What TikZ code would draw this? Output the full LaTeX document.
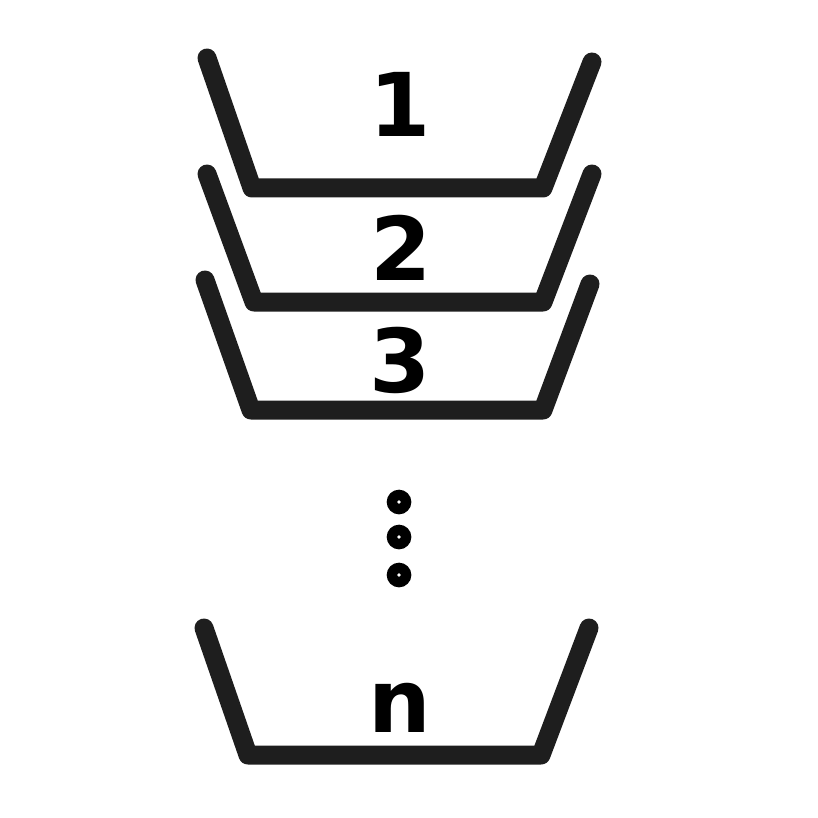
\documentclass[tikz,border=0pt]{standalone}
\usepackage{fontspec}
\setmainfont{DejaVu Sans}
\definecolor{trayc}{HTML}{1E1E1E}
\begin{document}
\begin{tikzpicture}[x=1pt,y=-1pt,
  tray/.style={draw=trayc,line width=19pt,line cap=round,line join=round},
  lbl/.style={inner sep=0pt,font=\fontsize{88}{88}\selectfont\bfseries,text=black},
  dotc/.style={draw=black,line width=10.5pt}]
\useasboundingbox (0,0) rectangle (818,818);
% trays
\coordinate (a1) at (207,58);  \coordinate (b1) at (252,188); \coordinate (c1) at (543,188); \coordinate (d1) at (592,62);
\coordinate (a2) at (207,174); \coordinate (b2) at (254,302); \coordinate (c2) at (543,302); \coordinate (d2) at (592,174);
\coordinate (a3) at (205,280); \coordinate (b3) at (251,410); \coordinate (c3) at (543,410); \coordinate (d3) at (590,284);
\coordinate (an) at (204,628); \coordinate (bn) at (248,755); \coordinate (cn) at (541,755); \coordinate (dn) at (589,628);
\draw[tray] (a1) -- (b1) -- (c1) -- (d1);
\draw[tray] (a2) -- (b2) -- (c2) -- (d2);
\draw[tray] (a3) -- (b3) -- (c3) -- (d3);
\draw[tray] (an) -- (bn) -- (cn) -- (dn);
% labels
\node[lbl] (l1) at (400,104.5) {1};
\node[lbl] (l2) at (401,248) {2};
\node[lbl] (l3) at (400,360) {3};
\node[lbl] (ln) at (400,708) {n};
% dots
\draw[dotc] (399,502) circle (7);
\draw[dotc] (399,537) circle (7);
\draw[dotc] (399,575) circle (7);
\end{tikzpicture}
\end{document}
